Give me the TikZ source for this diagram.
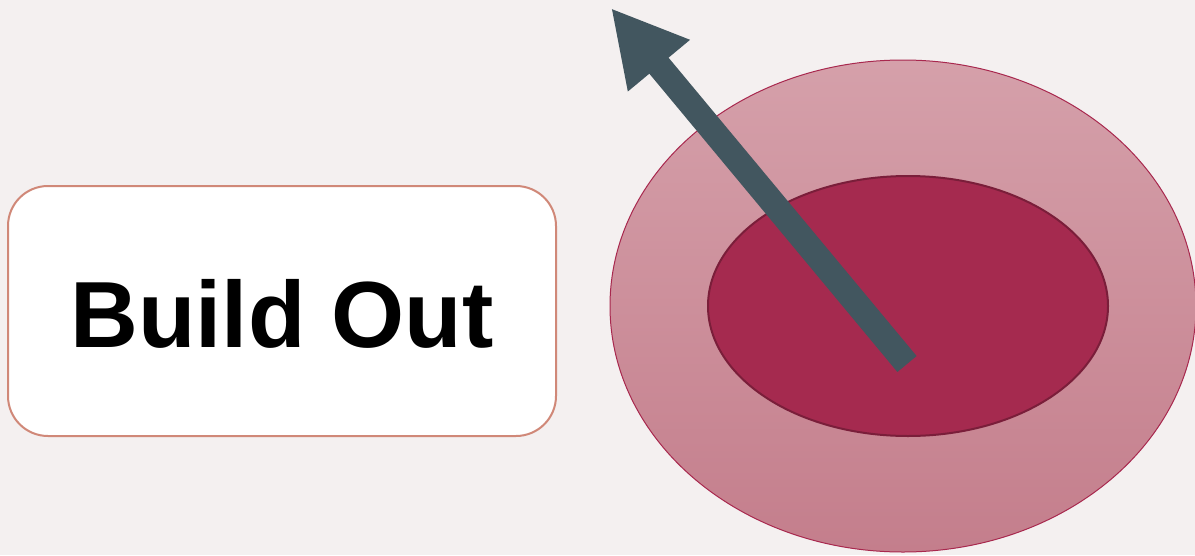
\documentclass[tikz,border=0pt]{standalone}
\usepackage{fontspec}
\setmainfont{Liberation Sans}
\usetikzlibrary{arrows.meta}
\definecolor{bg}{HTML}{F4F0F0}
\definecolor{outertop}{HTML}{D5A0AA}
\definecolor{outerbot}{HTML}{C47E8C}
\definecolor{outerline}{HTML}{A8284E}
\definecolor{innerfill}{HTML}{A52A4F}
\definecolor{innerline}{HTML}{7A1E3A}
\definecolor{arrowcol}{HTML}{42565F}
\definecolor{boxline}{HTML}{D08878}
\tikzset{
  labelbox/.style={draw=boxline, line width=2pt, fill=white, rounded corners=40pt,
    minimum width=548pt, minimum height=250pt, inner sep=0pt},
  labeltext/.style={inner sep=0pt, font=\fontsize{94}{108}\selectfont\bfseries},
  outerring/.style={draw=outerline, line width=1pt, top color=outertop, bottom color=outerbot},
  innerring/.style={draw=innerline, line width=2pt, fill=innerfill},
  bigarrow/.style={draw=arrowcol, line width=25pt, line cap=butt,
    -{Triangle[width=75pt,length=75pt]}}
}
\begin{document}
\begin{tikzpicture}[x=1pt,y=-1pt]
  \fill[bg] (0,0) rectangle (1195,555);
  \useasboundingbox (0,0) rectangle (1195,555);
  \node[labelbox] (box) at (282,311) {};
  \node[labeltext] (label) at (282,314) {Build Out};
  \path[outerring] (903,306) ellipse [x radius=293, y radius=246];
  \path[innerring] (908,306) ellipse [x radius=200, y radius=130];
  \coordinate (tail) at (907,364);
  \coordinate (tip) at (611,8);
  \draw[bigarrow] (tail) -- (tip);
\end{tikzpicture}
\end{document}
